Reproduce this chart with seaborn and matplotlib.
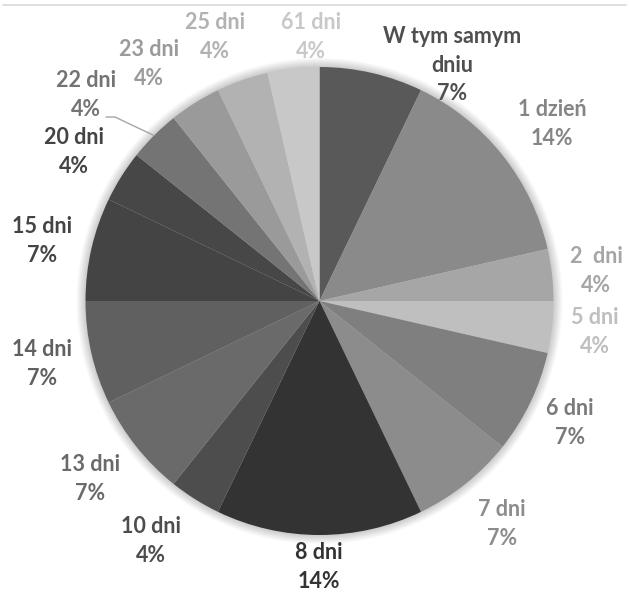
import numpy as np
import matplotlib
matplotlib.use("Agg")
import matplotlib.pyplot as plt
import seaborn as sns
from matplotlib.patches import Circle

# ---- data ----
categories = ["W tym samym\ndniu", "1 dzień", "2  dni", "5 dni", "6 dni", "7 dni", "8 dni",
              "10 dni", "13 dni", "14 dni", "15 dni", "20 dni", "22 dni", "23 dni",
              "25 dni", "61 dni"]
counts = [2, 4, 1, 1, 2, 2, 4, 1, 2, 2, 2, 1, 1, 1, 1, 1]
slice_colors = ["#595959", "#8a8a8a", "#a6a6a6", "#bfbfbf", "#7f7f7f", "#8c8c8c", "#333333",
                "#4d4d4d", "#6a6a6a", "#606060", "#444444", "#474747", "#747474", "#9a9a9a",
                "#b2b2b2", "#c8c8c8"]
label_colors = ["#4f4f4f", "#858585", "#a6a6a6", "#bfbfbf", "#7a7a7a", "#8c8c8c", "#333333",
                "#4d4d4d", "#6a6a6a", "#606060", "#444444", "#444444", "#747474", "#9a9a9a",
                "#b2b2b2", "#c8c8c8"]

# ---- layout (pixel coordinates of label centres, from top-left) ----
label_pos = [(452, 65), (552, 124), (596, 271), (595, 332), (570, 423), (502, 524),
             (319, 567), (151, 541), (90, 479), (42, 364), (42, 241), (74, 152),
             (86, 95), (149, 64), (215, 37), (311, 37)]

W, H = 629, 592
CX, CY, R = 319.5, 301, 234

sns.set_theme(style="white")
plt.rcParams["font.family"] = ["Lato", "DejaVu Sans"]

fig = plt.figure(figsize=(W / 100, H / 100), dpi=100)
ax = fig.add_axes([0, 0, 1, 1])

# soft shadow around the pie
for i in range(10, 0, -1):
    ax.add_patch(Circle((CX, H - CY), R + i * 0.9, facecolor="black",
                        alpha=0.018, edgecolor="none", zorder=0))

total = sum(counts)
wedges, _ = ax.pie(counts, colors=slice_colors, startangle=90, counterclock=False,
                   radius=R, center=(CX, H - CY),
                   wedgeprops=dict(linewidth=0, edgecolor="none"))
for w in wedges:
    w.set_zorder(2)

for lab, col, (px, py), c in zip(categories, label_colors, label_pos, counts):
    pct = f"{round(100 * c / total)}%"
    ax.text(px, H - py, f"{lab}\n{pct}", ha="center", va="center", color=col,
            fontsize=15.5, fontweight="bold", linespacing=1.45, zorder=5)

# leader line for "22 dni"
idx = categories.index("22 dni")
w = wedges[idx]
mid = np.deg2rad((w.theta1 + w.theta2) / 2)
ex, ey = CX + R * np.cos(mid), (H - CY) + R * np.sin(mid)
ax.plot([106, 115, ex], [H - 117, H - 117, ey], color="#a6a6a6", lw=1, zorder=4)

# thin chart-area top border
ax.plot([3, W - 3], [H - 4.5, H - 4.5], color="#d9d9d9", lw=1.2, zorder=1)

ax.set_xlim(0, W)
ax.set_ylim(0, H)
ax.set_aspect("auto")
ax.axis("off")
fig.savefig("out.png", dpi=100, facecolor="white")
